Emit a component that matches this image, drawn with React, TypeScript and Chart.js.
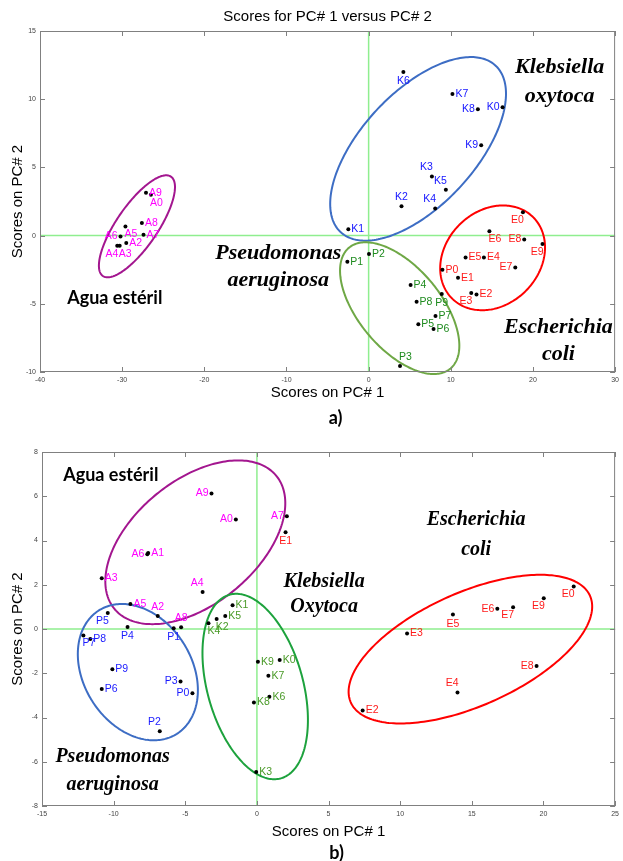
import React, { useEffect, useRef } from 'react';
import { Chart, registerables } from 'chart.js';
Chart.register(...registerables);

const W = 623;
const SANS = '"Liberation Sans", Arial, sans-serif';
const SERIF = '"Liberation Serif", "Times New Roman", serif';
const CALIBRI = 'Lato, "Open Sans", sans-serif';

// ---------------- Panel a ----------------
const A_X_TICKS = [-40, -30, -20, -10, 0, 10, 20, 30];
const A_Y_TICKS = [-10, -5, 0, 5, 10, 15];

const A_AGUA_NAMES = ['A9', 'A0', 'A8', 'A7', 'A5', 'A6', 'A2', 'A4', 'A3'];
const A_AGUA_X = [-27.1, -26.5, -27.6, -27.4, -29.6, -30.2, -29.5, -30.6, -30.3];
const A_AGUA_Y = [3.14, 2.99, 0.93, 0.07, 0.66, -0.07, -0.54, -0.74, -0.74];

const A_KLEB_NAMES = ['K6', 'K7', 'K8', 'K0', 'K9', 'K3', 'K5', 'K2', 'K4', 'K1'];
const A_KLEB_X = [4.23, 10.2, 13.3, 16.3, 13.7, 7.7, 9.4, 4.0, 8.1, -2.47];
const A_KLEB_Y = [11.99, 10.39, 9.26, 9.41, 6.62, 4.34, 3.36, 2.16, 1.99, 0.46];

const A_PSEU_NAMES = ['P1', 'P2', 'P4', 'P8', 'P9', 'P7', 'P5', 'P6', 'P3'];
const A_PSEU_X = [-2.59, 0.04, 5.11, 5.84, 8.9, 8.14, 6.05, 7.9, 3.82];
const A_PSEU_Y = [-1.91, -1.35, -3.63, -4.85, -4.29, -5.9, -6.5, -6.84, -9.56];

const A_ESCH_NAMES = ['E0', 'E6', 'E8', 'E9', 'E5', 'E4', 'E7', 'P0', 'E1', 'E3', 'E2'];
const A_ESCH_X = [18.78, 14.7, 18.94, 21.16, 11.8, 14.03, 17.85, 8.98, 10.88, 12.49, 13.13];
const A_ESCH_Y = [1.71, 0.32, -0.29, -0.61, -1.6, -1.6, -2.33, -2.5, -3.09, -4.21, -4.31];

// ellipses: Agua, Klebsiella, Pseudomonas, Escherichia
const A_ELL_CX = [-28.2, 6.02, 3.78, 15.09];
const A_ELL_CY = [0.68, 6.36, -5.32, -1.63];
const A_ELL_RX = [4.63, 10.7, 7.26, 6.38];
const A_ELL_RY = [3.74, 6.73, 4.83, 3.84];
const A_ELL_TILT = [0.77, 0.6, -0.57, 0.2];

const A_NOTE_TEXT = ['Klebsiella', 'oxytoca', 'Agua estéril', 'Pseudomonas', 'aeruginosa', 'Escherichia', 'coli'];
const A_NOTE_X = [23.25, 23.25, -30.9, -11.0, -11.0, 23.1, 23.1];
const A_NOTE_Y = [12.35, 10.2, -4.56, -1.32, -3.31, -6.76, -8.68];

// ---------------- Panel b ----------------
const B_X_TICKS = [-15, -10, -5, 0, 5, 10, 15, 20, 25];
const B_Y_TICKS = [-8, -6, -4, -2, 0, 2, 4, 6, 8];

const B_AGUA_NAMES = ['A9', 'A0', 'A7', 'A1', 'A6', 'A3', 'A4', 'A5', 'A2', 'A8'];
const B_AGUA_X = [-3.17, -1.47, 2.09, -7.59, -7.65, -10.83, -3.79, -8.83, -6.92, -5.29];
const B_AGUA_Y = [6.12, 4.95, 5.1, 3.44, 3.38, 2.29, 1.67, 1.13, 0.59, 0.08];

const B_PSEU_NAMES = ['P5', 'P4', 'P1', 'P7', 'P8', 'P9', 'P6', 'P3', 'P0', 'P2'];
const B_PSEU_X = [-10.41, -9.03, -5.81, -12.11, -11.63, -10.09, -10.83, -5.33, -4.5, -6.78];
const B_PSEU_Y = [0.72, 0.09, 0.03, -0.29, -0.45, -1.82, -2.71, -2.37, -2.9, -4.62];

const B_KLEB_NAMES = ['K1', 'K5', 'K2', 'K4', 'K9', 'K0', 'K7', 'K6', 'K8', 'K3'];
const B_KLEB_X = [-1.7, -2.21, -2.81, -3.38, 0.07, 1.59, 0.8, 0.87, -0.21, -0.05];
const B_KLEB_Y = [1.07, 0.59, 0.45, 0.26, -1.48, -1.4, -2.11, -3.06, -3.32, -6.46];

const B_ESCH_NAMES = ['E0', 'E9', 'E6', 'E7', 'E5', 'E3', 'E8', 'E4', 'E2', 'E1'];
const B_ESCH_X = [22.11, 20.02, 16.78, 17.88, 13.68, 10.48, 19.52, 14.0, 7.38, 2.0];
const B_ESCH_Y = [1.92, 1.39, 0.92, 0.98, 0.65, -0.2, -1.67, -2.87, -3.68, 4.37];

// ellipses: Agua, Pseudomonas, Klebsiella, Escherichia
const B_ELL_CX = [-4.3, -8.31, -0.12, 14.9];
const B_ELL_CY = [3.92, -1.95, -2.6, -0.91];
const B_ELL_RX = [6.28, 4.19, 3.68, 8.5];
const B_ELL_RY = [3.7, 3.08, 4.19, 3.36];
const B_ELL_TILT = [0.477, -0.265, -0.36, 0.573];

const B_NOTE_TEXT = ['Agua estéril', 'Klebsiella', 'Oxytoca', 'Escherichia', 'coli', 'Pseudomonas', 'aeruginosa'];
const B_NOTE_X = [-10.2, 4.69, 4.69, 15.3, 15.3, -10.07, -10.07];
const B_NOTE_Y = [6.97, 2.14, 1.01, 4.95, 3.6, -5.79, -7.06];

// ---------------- styles (label anchors, colours, fonts) ----------------
const A_AGUA_ANCHOR = ['r', 'br', 'r', 'r', 'br', 'l', 'r', 'bl', 'br'];
const A_KLEB_ANCHOR = ['b', 'r', 'l', 'l', 'l', 'al', 'al', 'a', 'al', 'r'];
const A_PSEU_ANCHOR = ['r', 'r', 'r', 'r', 'b', 'r', 'r', 'r', 'ar'];
const A_ESCH_ANCHOR = ['bl', 'br', 'l', 'bl', 'r', 'r', 'l', 'r', 'r', 'bl', 'r'];

const B_AGUA_ANCHOR = ['l', 'l', 'l', 'r', 'l', 'r', 'al', 'r', 'a', 'a'];
const B_PSEU_ANCHOR = ['bl', 'b', 'b', 'br', 'r', 'r', 'r', 'l', 'l', 'al'];
const B_KLEB_ANCHOR = ['r', 'r', 'br', 'br', 'r', 'r', 'r', 'r', 'r', 'r'];
const B_ESCH_ANCHOR = ['bl', 'bl', 'l', 'bl', 'b', 'r', 'l', 'al', 'r', 'b'];

const SPECIES_FONT_A = `bold italic 22px ${SERIF}`;
const SPECIES_FONT_B = `bold italic 20px ${SERIF}`;
const AGUA_FONT = `bold 18px ${CALIBRI}`;

type Group = { names: string[]; xs: number[]; ys: number[]; anchors: string[]; color: string };
type Ell = { cx: number; cy: number; rx: number; ry: number; tilt: number; color: string };
type Note = { text: string; x: number; y: number; font: string };
type PanelCfg = {
  height: number;
  plot: { left: number; right: number; top: number; bottom: number };
  xMin: number; xMax: number; yMin: number; yMax: number;
  xTicks: number[]; yTicks: number[];
  groups: Group[]; ellipses: Ell[]; notes: Note[];
  title?: string; panelLabel: string;
  xTitleGap: number; panelLabelGap: number;
};

function mkGroups(names: string[][], xs: number[][], ys: number[][], anchors: string[][], colors: string[]): Group[] {
  return names.map((n, i) => ({ names: n, xs: xs[i], ys: ys[i], anchors: anchors[i], color: colors[i] }));
}
function mkEll(cx: number[], cy: number[], rx: number[], ry: number[], tilt: number[], colors: string[]): Ell[] {
  return cx.map((c, i) => ({ cx: c, cy: cy[i], rx: rx[i], ry: ry[i], tilt: tilt[i], color: colors[i] }));
}
function mkNotes(t: string[], x: number[], y: number[], fonts: string[]): Note[] {
  return t.map((s, i) => ({ text: s, x: x[i], y: y[i], font: fonts[i] }));
}

const PANEL_A: PanelCfg = {
  height: 430,
  plot: { left: 40, right: 619, top: 31, bottom: 372 },
  xMin: -40, xMax: 30, yMin: -10, yMax: 15,
  xTicks: A_X_TICKS, yTicks: A_Y_TICKS,
  groups: mkGroups(
    [A_AGUA_NAMES, A_KLEB_NAMES, A_PSEU_NAMES, A_ESCH_NAMES],
    [A_AGUA_X, A_KLEB_X, A_PSEU_X, A_ESCH_X],
    [A_AGUA_Y, A_KLEB_Y, A_PSEU_Y, A_ESCH_Y],
    [A_AGUA_ANCHOR, A_KLEB_ANCHOR, A_PSEU_ANCHOR, A_ESCH_ANCHOR],
    ['#FF00FF', '#1414FF', '#1E8B1E', '#FF1A1A']
  ),
  ellipses: mkEll(A_ELL_CX, A_ELL_CY, A_ELL_RX, A_ELL_RY, A_ELL_TILT, ['#A3168F', '#3D6DC4', '#6FA846', '#FF0000']),
  notes: mkNotes(A_NOTE_TEXT, A_NOTE_X, A_NOTE_Y, [
    SPECIES_FONT_A, SPECIES_FONT_A, AGUA_FONT, SPECIES_FONT_A, SPECIES_FONT_A, SPECIES_FONT_A, SPECIES_FONT_A,
  ]),
  title: 'Scores for PC# 1 versus PC# 2',
  panelLabel: 'a)',
  xTitleGap: 21,
  panelLabelGap: 46,
};

const PANEL_B: PanelCfg = {
  height: 431,
  plot: { left: 42, right: 621, top: 22, bottom: 376 },
  xMin: -15, xMax: 25, yMin: -8, yMax: 8,
  xTicks: B_X_TICKS, yTicks: B_Y_TICKS,
  groups: mkGroups(
    [B_AGUA_NAMES, B_PSEU_NAMES, B_KLEB_NAMES, B_ESCH_NAMES],
    [B_AGUA_X, B_PSEU_X, B_KLEB_X, B_ESCH_X],
    [B_AGUA_Y, B_PSEU_Y, B_KLEB_Y, B_ESCH_Y],
    [B_AGUA_ANCHOR, B_PSEU_ANCHOR, B_KLEB_ANCHOR, B_ESCH_ANCHOR],
    ['#FF00FF', '#1A1AFF', '#4A9A28', '#FF1A1A']
  ),
  ellipses: mkEll(B_ELL_CX, B_ELL_CY, B_ELL_RX, B_ELL_RY, B_ELL_TILT, ['#A3168F', '#3D6DC4', '#1DA23D', '#FF0000']),
  notes: mkNotes(B_NOTE_TEXT, B_NOTE_X, B_NOTE_Y, [
    AGUA_FONT, SPECIES_FONT_B, SPECIES_FONT_B, SPECIES_FONT_B, SPECIES_FONT_B, SPECIES_FONT_B, SPECIES_FONT_B,
  ]),
  panelLabel: 'b)',
  xTitleGap: 26,
  panelLabelGap: 47,
};

const ANCHOR_OFFSETS: Record<string, [CanvasTextAlign, number, number]> = {
  r: ['left', 3, 0],
  l: ['right', -3, 0],
  b: ['center', 0, 9],
  a: ['center', 0, -9],
  br: ['left', -1, 8],
  bl: ['right', 1, 8],
  ar: ['left', -1, -9],
  al: ['right', 1, -9],
};

function makePlugin(cfg: PanelCfg) {
  return {
    id: 'pcaDecor',
    beforeDatasetsDraw(chart: any) {
      const { ctx, chartArea: ca, scales } = chart;
      const xs = scales.x, ys = scales.y;
      ctx.save();
      ctx.strokeStyle = '#8FEE8F';
      ctx.lineWidth = 1.5;
      const x0 = xs.getPixelForValue(0);
      const y0 = ys.getPixelForValue(0);
      ctx.beginPath();
      ctx.moveTo(x0, ca.top);
      ctx.lineTo(x0, ca.bottom);
      ctx.moveTo(ca.left, y0);
      ctx.lineTo(ca.right, y0);
      ctx.stroke();
      cfg.ellipses.forEach((e) => {
        const phi = Math.acos(e.tilt);
        ctx.beginPath();
        for (let i = 0; i <= 240; i++) {
          const t = (i / 240) * Math.PI * 2;
          const px = xs.getPixelForValue(e.cx + e.rx * Math.cos(t));
          const py = ys.getPixelForValue(e.cy + e.ry * Math.cos(t - phi));
          if (i === 0) ctx.moveTo(px, py);
          else ctx.lineTo(px, py);
        }
        ctx.closePath();
        ctx.strokeStyle = e.color;
        ctx.lineWidth = 2;
        ctx.stroke();
      });
      ctx.restore();
    },
    afterDatasetsDraw(chart: any) {
      const { ctx, scales } = chart;
      const xs = scales.x, ys = scales.y;
      ctx.save();
      ctx.font = `10.5px ${SANS}`;
      ctx.textBaseline = 'middle';
      cfg.groups.forEach((g) => {
        ctx.fillStyle = g.color;
        g.names.forEach((n, i) => {
          const [align, dx, dy] = ANCHOR_OFFSETS[g.anchors[i]] || ANCHOR_OFFSETS.r;
          ctx.textAlign = align;
          ctx.fillText(n, xs.getPixelForValue(g.xs[i]) + dx, ys.getPixelForValue(g.ys[i]) + dy);
        });
      });
      ctx.fillStyle = '#000';
      ctx.textAlign = 'center';
      cfg.notes.forEach((n) => {
        ctx.font = n.font;
        ctx.fillText(n.text, xs.getPixelForValue(n.x), ys.getPixelForValue(n.y));
      });
      ctx.restore();
    },
    afterDraw(chart: any) {
      const { ctx, chartArea: ca, scales } = chart;
      const xs = scales.x, ys = scales.y;
      ctx.save();
      ctx.strokeStyle = '#808080';
      ctx.lineWidth = 1;
      ctx.strokeRect(ca.left + 0.5, ca.top + 0.5, ca.right - ca.left - 1, ca.bottom - ca.top - 1);
      ctx.beginPath();
      cfg.xTicks.forEach((v) => {
        const px = Math.round(xs.getPixelForValue(v)) + 0.5;
        ctx.moveTo(px, ca.bottom);
        ctx.lineTo(px, ca.bottom - 5);
        ctx.moveTo(px, ca.top);
        ctx.lineTo(px, ca.top + 5);
      });
      cfg.yTicks.forEach((v) => {
        const py = Math.round(ys.getPixelForValue(v)) + 0.5;
        ctx.moveTo(ca.left, py);
        ctx.lineTo(ca.left + 5, py);
        ctx.moveTo(ca.right, py);
        ctx.lineTo(ca.right - 5, py);
      });
      ctx.stroke();

      const cx = (ca.left + ca.right) / 2;
      ctx.fillStyle = '#000';
      ctx.textAlign = 'center';
      ctx.textBaseline = 'middle';
      if (cfg.title) {
        ctx.font = `15px ${SANS}`;
        ctx.fillText(cfg.title, cx, 17);
      }
      ctx.font = `15px ${SANS}`;
      ctx.fillText('Scores on PC# 1', cx, ca.bottom + cfg.xTitleGap);
      ctx.save();
      ctx.translate(18, (ca.top + ca.bottom) / 2);
      ctx.rotate(-Math.PI / 2);
      ctx.fillText('Scores on PC# 2', 0, 0);
      ctx.restore();
      ctx.font = `bold 18px ${CALIBRI}`;
      ctx.fillText(cfg.panelLabel, cx + 8, ca.bottom + cfg.panelLabelGap);
      ctx.restore();
    },
  };
}

function buildConfig(cfg: PanelCfg): any {
  const tickFont = { size: 7, family: SANS };
  return {
    type: 'scatter',
    data: {
      datasets: cfg.groups.map((g) => ({
        data: g.xs.map((x, i) => ({ x, y: g.ys[i] })),
        pointRadius: 2,
        pointBackgroundColor: '#000',
        pointBorderWidth: 0,
        showLine: false,
      })),
    },
    options: {
      animation: false,
      responsive: false,
      layout: { padding: { top: cfg.plot.top, right: W - cfg.plot.right, left: 0, bottom: 0 } },
      plugins: { legend: { display: false }, tooltip: { enabled: false }, title: { display: false } },
      scales: {
        x: {
          type: 'linear',
          min: cfg.xMin,
          max: cfg.xMax,
          afterBuildTicks: (ax: any) => {
            ax.ticks = cfg.xTicks.map((v) => ({ value: v }));
          },
          afterFit: (s: any) => {
            s.height = cfg.height - cfg.plot.bottom;
          },
          grid: { display: false, drawTicks: false },
          border: { display: false },
          ticks: { font: tickFont, color: '#444', padding: 4, maxRotation: 0, minRotation: 0, autoSkip: false },
        },
        y: {
          type: 'linear',
          min: cfg.yMin,
          max: cfg.yMax,
          afterBuildTicks: (ax: any) => {
            ax.ticks = cfg.yTicks.map((v) => ({ value: v }));
          },
          afterFit: (s: any) => {
            s.width = cfg.plot.left;
          },
          grid: { display: false, drawTicks: false },
          border: { display: false },
          ticks: { font: tickFont, color: '#444', padding: 4, autoSkip: false },
        },
      },
    },
    plugins: [makePlugin(cfg)],
  };
}

function Panel({ cfg, top }: { cfg: PanelCfg; top: number }) {
  const ref = useRef<HTMLCanvasElement>(null);
  useEffect(() => {
    const chart = new Chart(ref.current as HTMLCanvasElement, buildConfig(cfg));
    return () => chart.destroy();
  }, [cfg]);
  return (
    <canvas
      ref={ref}
      width={W}
      height={cfg.height}
      style={{ position: 'absolute', left: 0, top, width: W, height: cfg.height }}
    />
  );
}

export default function App() {
  return (
    <div style={{ position: 'absolute', left: 0, top: 0, width: W, height: 861, background: '#fff', overflow: 'hidden' }}>
      <Panel cfg={PANEL_A} top={0} />
      <Panel cfg={PANEL_B} top={430} />
    </div>
  );
}
